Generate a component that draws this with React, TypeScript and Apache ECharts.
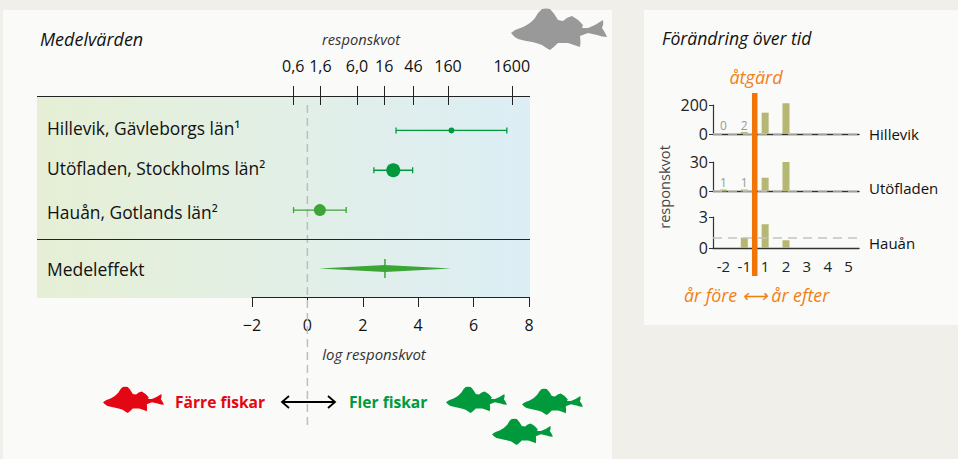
import React, { useEffect, useRef } from "react";
import * as echarts from "echarts";

const studies = ["Hillevik, Gävleborgs län¹", "Utöfladen, Stockholms län²", "Hauån, Gotlands län²"];
const studyLabelY = [128, 168, 212];
const means = [5.2, 3.1, 0.45];
const ciLow = [3.2, 2.4, -0.5];
const ciHigh = [7.2, 3.8, 1.4];
const pointSizes = [6, 14, 12];
const pointColors = ["#009a3d", "#009a3d", "#3ca535"];
const meanEffect = { label: "Medeleffekt", low: 0.42, mid: 2.8, high: 5.18 };
const ratioLabels = ["0,6", "1,6", "6,0", "16", "46", "160", "1600"];
const ratioValues = [0.6, 1.6, 6, 16, 46, 160, 1600];

const years = ["-2", "-1", "1", "2", "3", "4", "5"];
const hillevik: (number | null)[] = [0, 2, 147, 212, null, null, null];
const utofladen: (number | null)[] = [1, 1, 14, 30, null, null, null];
const hauan: (number | null)[] = [null, 1, 2.3, 0.75, null, null, null];

const FONT = "'Open Sans', sans-serif";
const FISH =
  "M0 24 Q5 20 12 18 Q19 15 24 9 Q27 3 31 0 Q35 -1 39 0 Q44 5 47 11 L52 12 Q56 8 61 7 Q67 10 72 16 L71 19 L77 19 Q85 16 92 11 Q93 15 91 19 Q94 23 96 28 Q91 28 86 26 L77 24 L69 27 Q70 33 69 38 Q63 36 57 34 L47 34 Q43 38 39 41 Q35 39 31 36 Q26 34 21 33 Q14 32 7 30 Q3 28 0 24 Z";
echarts.graphic.registerShape("fish", echarts.graphic.extendPath(FISH as any, {}) as any);

const txt = (x: number, y: number, text: string, size: number, fill: string, extra: any = {}) => ({
  type: "text",
  x,
  y,
  z: 20,
  style: { text, fontSize: size, fill, fontFamily: FONT, textVerticalAlign: "middle", ...extra },
});
const fish = (x: number, y: number, w: number, fill: string) => ({
  type: "fish",
  x,
  y,
  scaleX: w / 96,
  scaleY: w / 96,
  z: 20,
  style: { fill },
});
const panel = (x: number, y: number, width: number, height: number, fill: any) => ({
  type: "rect",
  z: -10,
  shape: { x, y, width, height },
  style: { fill },
});
const smallX = (gridIndex: number, labels: boolean) => ({
  type: "category",
  gridIndex,
  data: years,
  axisLine: { lineStyle: { color: "#333", width: 1.4 } },
  axisTick: { length: 3, alignWithLabel: false, lineStyle: { color: "#333" } },
  axisLabel: { show: labels, fontSize: 15, color: "#222", fontFamily: FONT, margin: 10, interval: 0 },
});
const smallY = (gridIndex: number, max: number) => ({
  type: "value",
  gridIndex,
  min: 0,
  max,
  interval: max,
  splitLine: { show: false },
  axisLine: { show: true, lineStyle: { color: "#333", width: 1.2 } },
  axisTick: { show: true, length: 4, lineStyle: { color: "#333" } },
  axisLabel: { fontSize: 16, color: "#222", fontFamily: FONT, margin: 5 },
});
const smallBar = (idx: number, values: (number | null)[], labelled: boolean) => ({
  type: "bar",
  xAxisIndex: idx,
  yAxisIndex: idx,
  barWidth: 7,
  barMinHeight: labelled ? 2 : 0,
  clip: false,
  z: 3,
  itemStyle: { color: "#b5b872" },
  markLine: {
    silent: true,
    symbol: "none",
    label: { show: false },
    lineStyle: { color: "#c4c4c0", type: [9, 6], width: 1.5 },
    data: [{ yAxis: 1 }],
  },
  data: values.map((v, i) =>
    labelled && i < 2
      ? {
          value: v,
          itemStyle: v === 0 ? { color: "transparent" } : undefined,
          label: { show: true, position: "top", distance: 1, fontSize: 12, color: "#999", fontFamily: FONT, formatter: String(v) },
        }
      : v
  ),
});

function buildOption(): any {
  const logTicks = ratioValues.map((v) => Math.log(v));
  return {
    animation: false,
    backgroundColor: "#f0efe9",
    grid: [
      { left: 252, width: 277, top: 110.5, height: 119.5 },
      { left: 252, width: 277, top: 240, height: 57 },
      { left: 252, width: 277, top: 105, height: 320 },
      { left: 713, width: 146, top: 105, height: 29 },
      { left: 713, width: 146, top: 162, height: 29.5 },
      { left: 713, width: 146, top: 217, height: 31 },
      { left: 713, width: 146, top: 93, height: 183 },
    ],
    xAxis: [
      {
        type: "value",
        gridIndex: 0,
        position: "top",
        offset: 5.5,
        min: -2,
        max: 8,
        splitLine: { show: false },
        axisLine: { show: false },
        axisTick: { show: true, length: 19, lineStyle: { color: "#222" }, customValues: logTicks },
        axisLabel: {
          show: true,
          fontSize: 16,
          color: "#111",
          fontFamily: FONT,
          margin: 31,
          customValues: logTicks,
          formatter: (v: number) => {
            const i = logTicks.findIndex((t) => Math.abs(t - v) < 1e-6);
            return i >= 0 ? ratioLabels[i] : "";
          },
        },
      },
      {
        type: "value",
        gridIndex: 1,
        min: -2,
        max: 8,
        interval: 2,
        splitLine: { show: false },
        axisLine: { show: true, lineStyle: { color: "#222", width: 1.2 } },
        axisTick: { show: true, length: 10, lineStyle: { color: "#222" } },
        axisLabel: {
          fontSize: 16,
          color: "#111",
          fontFamily: FONT,
          margin: 20,
          formatter: (v: number) => String(v).replace("-", "−"),
        },
      },
      { type: "value", gridIndex: 2, min: -2, max: 8, show: false },
      smallX(3, false),
      smallX(4, false),
      smallX(5, true),
      { type: "value", gridIndex: 6, min: 0, max: years.length, show: false },
    ],
    yAxis: [
      {
        type: "category",
        gridIndex: 0,
        inverse: true,
        data: studies,
        axisLine: { show: false },
        axisTick: { show: false },
        axisLabel: { show: false },
      },
      {
        type: "category",
        gridIndex: 1,
        data: [meanEffect.label],
        axisLine: { show: false },
        axisTick: { show: false },
        axisLabel: { fontSize: 17.5, color: "#111", fontFamily: FONT, align: "left", margin: 205 },
      },
      { type: "value", gridIndex: 2, min: 0, max: 1, show: false },
      smallY(3, 200),
      smallY(4, 30),
      smallY(5, 3),
      { type: "value", gridIndex: 6, min: 0, max: 1, show: false },
    ],
    series: [
      {
        type: "line",
        xAxisIndex: 2,
        yAxisIndex: 2,
        z: 1,
        symbol: "none",
        lineStyle: { color: "#bdbdbb", type: [8, 5], width: 1.5 },
        data: [
          [0, 0],
          [0, 1],
        ],
      },
      {
        type: "custom",
        xAxisIndex: 0,
        yAxisIndex: 0,
        z: 5,
        data: studies.map((_, i) => [i, ciLow[i], means[i], ciHigh[i], pointSizes[i]]),
        encode: { x: [1, 2, 3], y: 0 },
        renderItem: (params: any, api: any) => {
          const row = api.value(0);
          const lo = api.coord([api.value(1), row]);
          const mid = api.coord([api.value(2), row]);
          const hi = api.coord([api.value(3), row]);
          const color = pointColors[params.dataIndex];
          const stroke = { stroke: color, lineWidth: 1.3 };
          const cap = 3;
          return {
            type: "group",
            children: [
              { type: "line", shape: { x1: lo[0], y1: lo[1], x2: hi[0], y2: hi[1] }, style: stroke },
              { type: "line", shape: { x1: lo[0], y1: lo[1] - cap, x2: lo[0], y2: lo[1] + cap }, style: stroke },
              { type: "line", shape: { x1: hi[0], y1: hi[1] - cap, x2: hi[0], y2: hi[1] + cap }, style: stroke },
              { type: "circle", shape: { cx: mid[0], cy: mid[1], r: api.value(4) / 2 }, style: { fill: color } },
            ],
          };
        },
      },
      {
        type: "custom",
        xAxisIndex: 1,
        yAxisIndex: 1,
        z: 5,
        data: [[0, meanEffect.low, meanEffect.mid, meanEffect.high]],
        encode: { x: [1, 2, 3], y: 0 },
        renderItem: (_: any, api: any) => {
          const lo = api.coord([api.value(1), 0]);
          const mid = api.coord([api.value(2), 0]);
          const hi = api.coord([api.value(3), 0]);
          const color = "#3ca535";
          return {
            type: "group",
            children: [
              {
                type: "polygon",
                shape: { points: [[lo[0], lo[1]], [mid[0], mid[1] - 3.5], [hi[0], hi[1]], [mid[0], mid[1] + 3.5]] },
                style: { fill: color },
              },
              {
                type: "line",
                shape: { x1: mid[0], y1: mid[1] - 9.5, x2: mid[0], y2: mid[1] + 9.5 },
                style: { stroke: color, lineWidth: 1.5 },
              },
            ],
          };
        },
      },
      smallBar(3, hillevik, true),
      smallBar(4, utofladen, true),
      smallBar(5, hauan, false),
      {
        type: "line",
        xAxisIndex: 6,
        yAxisIndex: 6,
        z: 8,
        symbol: "none",
        lineStyle: { color: "#f07406", width: 5.5, cap: "butt" },
        data: [
          [2, 0],
          [2, 1],
        ],
      },
    ],
    graphic: [
      panel(3, 10, 609, 449, "#fafaf8"),
      panel(644, 10, 314, 315, "#fafaf8"),
      panel(37, 97, 493, 201, {
        type: "linear",
        x: 0,
        y: 0,
        x2: 1,
        y2: 0,
        colorStops: [
          { offset: 0, color: "#e6efd5" },
          { offset: 0.55, color: "#e2efe8" },
          { offset: 1, color: "#dceef5" },
        ],
      }),
      { type: "line", z: 4, shape: { x1: 37, y1: 96.5, x2: 530, y2: 96.5 }, style: { stroke: "#222", lineWidth: 1.2 } },
      { type: "line", z: 4, shape: { x1: 37, y1: 239.5, x2: 530, y2: 239.5 }, style: { stroke: "#222", lineWidth: 1.2 } },
      ...studies.map((s, i) => txt(47, studyLabelY[i], s, 17.4, "#111")),
      txt(40, 39, "Medelvärden", 18, "#111", { fontStyle: "italic" }),
      txt(361, 39, "responskvot", 14.7, "#333", { fontStyle: "italic", textAlign: "center" }),
      txt(374, 354, "log responskvot", 15, "#333", { fontStyle: "italic", textAlign: "center" }),
      txt(175, 402, "Färre fiskar", 15.6, "#e30613", { fontWeight: "bold" }),
      txt(349, 402, "Fler fiskar", 15.6, "#009a3d", { fontWeight: "bold" }),
      fish(511, 9, 96, "#999999"),
      fish(103, 387, 61, "#e30613"),
      fish(446, 387, 61, "#009a3d"),
      fish(522, 389, 61, "#009a3d"),
      fish(492, 419, 61, "#009a3d"),
      { type: "line", z: 20, shape: { x1: 282, y1: 402, x2: 335, y2: 402 }, style: { stroke: "#000", lineWidth: 1.8 } },
      { type: "polyline", z: 20, shape: { points: [[289, 396], [282, 402], [289, 408]] }, style: { stroke: "#000", lineWidth: 1.8, fill: "none" } },
      { type: "polyline", z: 20, shape: { points: [[328, 396], [335, 402], [328, 408]] }, style: { stroke: "#000", lineWidth: 1.8, fill: "none" } },
      txt(662, 38, "Förändring över tid", 17.6, "#111", { fontStyle: "italic" }),
      txt(756, 77, "åtgärd", 18, "#f07f1a", { fontStyle: "italic", textAlign: "center" }),
      txt(684, 295, "år före ⟷ år efter", 17.8, "#f07f1a", { fontStyle: "italic" }),
      txt(869, 134, "Hillevik", 15, "#111"),
      txt(869, 188, "Utöfladen", 15, "#111"),
      txt(869, 243, "Hauån", 15, "#111"),
      { ...txt(664, 187, "responskvot", 14.6, "#444", { textAlign: "center" }), rotation: Math.PI / 2 },
    ],
  };
}

export default function App() {
  const ref = useRef<HTMLDivElement>(null);
  useEffect(() => {
    document.body.style.margin = "0";
    const chart = echarts.init(ref.current!, undefined, { renderer: "svg" });
    chart.setOption(buildOption());
    return () => chart.dispose();
  }, []);
  return <div ref={ref} style={{ width: 958, height: 459 }} />;
}
